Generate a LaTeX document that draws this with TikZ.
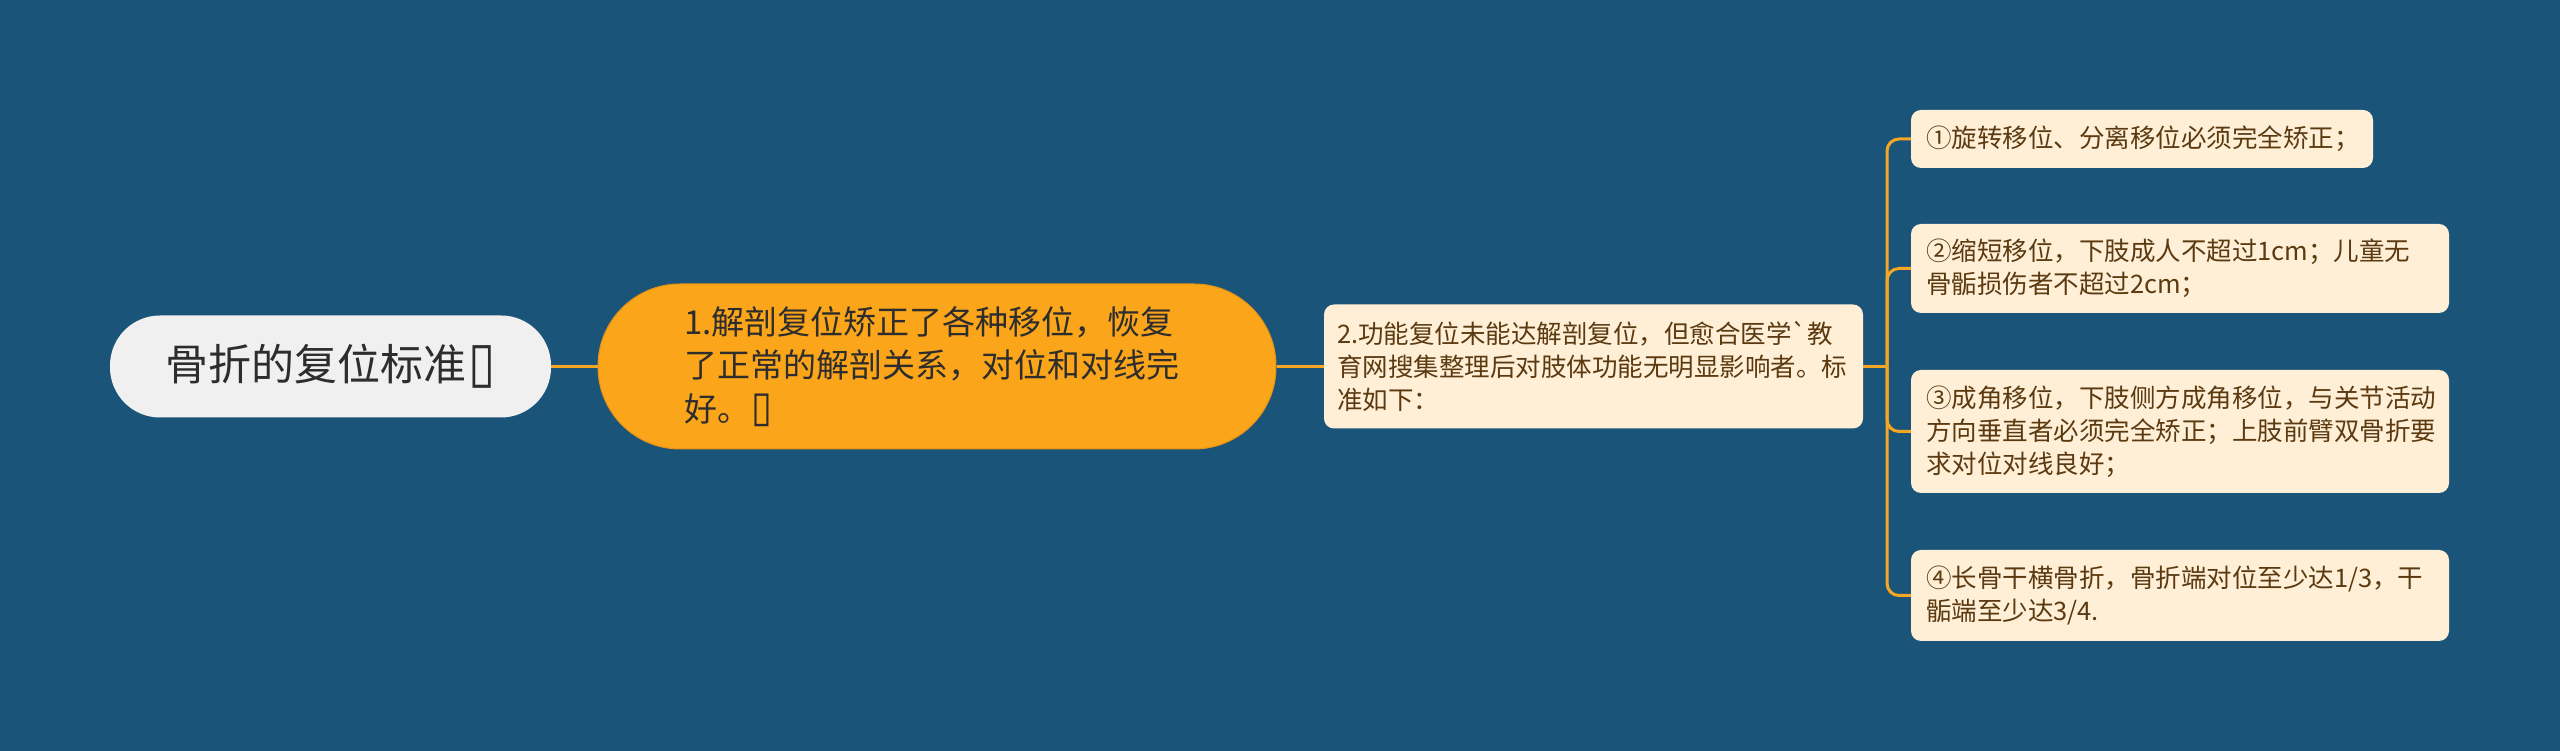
\documentclass[tikz,border=0pt]{standalone}
\usepackage{fontspec}
\newfontfamily\cjk{Noto Sans CJK SC}
\newfontfamily\djv{DejaVu Sans}
\definecolor{bgc}{RGB}{27,84,121}
\definecolor{connc}{RGB}{245,166,35}
\definecolor{mainfill}{RGB}{250,165,26}
\definecolor{mainedge}{RGB}{226,146,20}
\definecolor{rootfill}{RGB}{240,240,240}
\definecolor{creamfill}{RGB}{255,239,214}
\definecolor{leaftext}{RGB}{92,58,17}
\definecolor{darktext}{RGB}{45,45,45}
\newcommand\tofu{\kern0.06em\raisebox{-0.02em}{\djv\scalebox{1.15}[1.3]{▯}}}
\tikzset{
  rootbox/.style={fill=rootfill, rounded corners=50pt, minimum width=441pt, minimum height=102pt,
    inner sep=0pt, text=darktext, font=\cjk\fontsize{43}{50}\selectfont},
  mainbox/.style={fill=mainfill, draw=mainedge, line width=1pt, rounded corners=82pt,
    minimum height=165pt, inner xsep=86pt, inner ysep=0pt, text width=506pt, align=left,
    text=darktext, font=\cjk\fontsize{33}{43.5}\selectfont},
  subbox/.style={fill=creamfill, rounded corners=10pt, inner xsep=13pt, inner ysep=0pt,
    text width=513pt, align=left, text=leaftext, font=\cjk\fontsize{25.5}{33}\selectfont},
  leafbox/.style={fill=creamfill, rounded corners=10pt, inner xsep=15pt, inner ysep=0pt,
    align=left, text=leaftext, font=\cjk\fontsize{25.5}{33}\selectfont},
  conn/.style={draw=connc, line width=3pt},
}
\begin{document}
\begin{tikzpicture}[x=1pt,y=1pt]
\fill[bgc] (0,0) rectangle (2560,751);
\useasboundingbox (0,0) rectangle (2560,751);

\node[rootbox] (root) at (330.5,384.5) {骨折的复位标准\tofu};
\node[mainbox] (n1) at (937,384.5) {1.解剖复位矫正了各种移位，恢复\\了正常的解剖关系，对位和对线完\\好。\tofu};
\node[subbox, minimum height=124pt] (n2) at (1593.5,384.5) {2.功能复位未能达解剖复位，但愈合医学`教\\育网搜集整理后对肢体功能无明显影响者。标\\准如下：};

\node[leafbox, text width=432pt, minimum height=58pt] (l1) at (2142,612) {①旋转移位、分离移位必须完全矫正；};
\node[leafbox, text width=508pt, minimum height=89pt] (l2) at (2180,482.5) {②缩短移位，下肢成人不超过1cm；儿童无\\骨骺损伤者不超过2cm；};
\node[leafbox, text width=508pt, minimum height=123pt] (l3) at (2180,319.5) {③成角移位，下肢侧方成角移位，与关节活动\\方向垂直者必须完全矫正；上肢前臂双骨折要\\求对位对线良好；};
\node[leafbox, text width=508pt, minimum height=91pt] (l4) at (2180,155.5) {④长骨干横骨折，骨折端对位至少达1/3，干\\骺端至少达3/4.};

\coordinate (bus) at (1887,384.5);
\draw[conn] (root.east) -- (n1.west);
\draw[conn] (n1.east) -- (n2.west);
\draw[conn] (n2.east) -- (bus);
\foreach \l in {l1,l2,l3,l4}
  \draw[conn, rounded corners=12pt] (bus) |- (\l.west);
\end{tikzpicture}
\end{document}
